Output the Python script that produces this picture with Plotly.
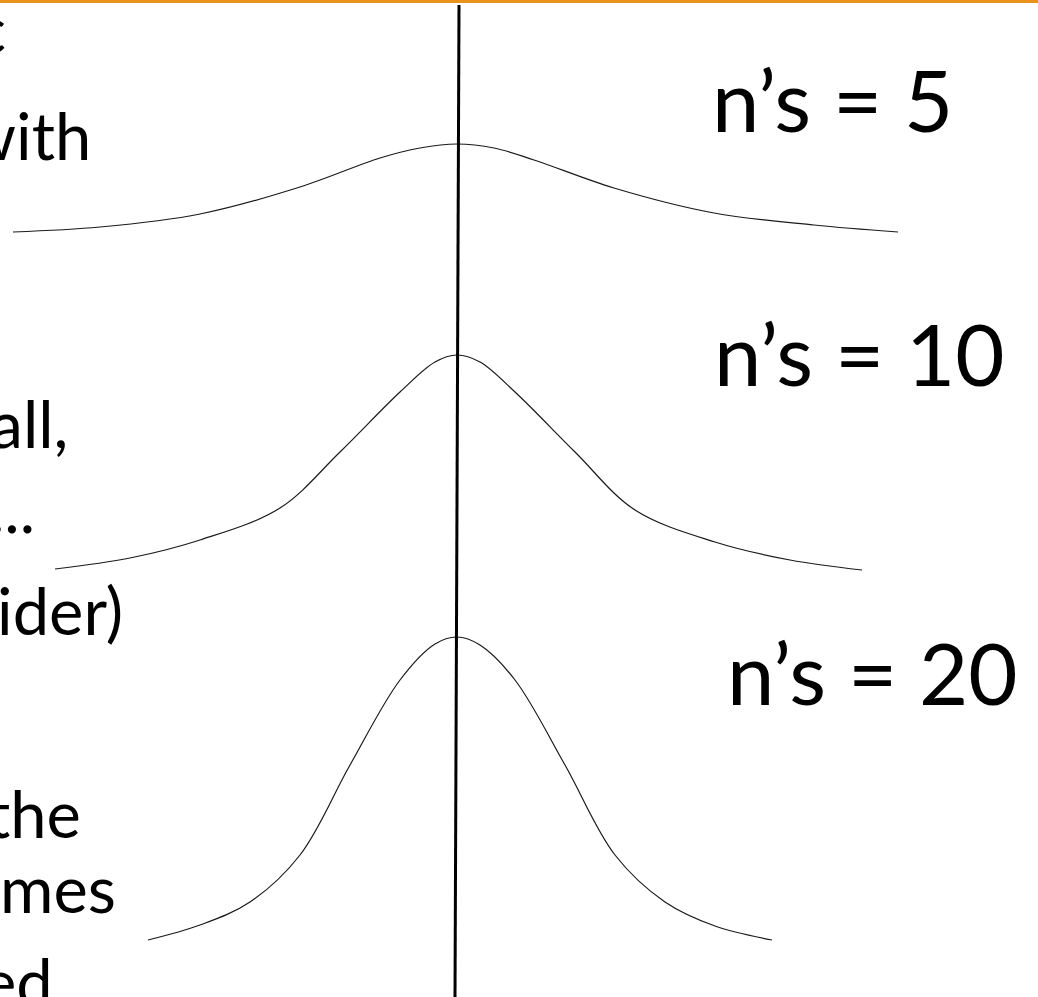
import plotly.graph_objects as go

# Pixel-space canvas (x: 0..1038, y: 0..997 top-down)
W, H = 1038, 997

# Bell curves
n5_x = [13, 100, 200, 300, 380, 420, 457, 494, 534, 614, 714, 814, 898]
n5_y = [232, 227, 214, 187, 158, 148, 144, 148, 160, 188, 213, 225, 232]

n10_x = [55, 130, 200, 280, 340, 400, 435, 457, 480, 515, 575, 635, 715, 790, 862]
n10_y = [569, 558, 540, 508, 452, 392, 362, 355, 362, 392, 452, 510, 542, 560, 570]

n20_x = [148, 200, 250, 300, 350, 400, 435, 457, 480, 515, 565, 615, 665, 715, 772]
n20_y = [940, 925, 902, 855, 765, 680, 644, 637, 645, 680, 765, 855, 902, 926, 940]

# Vertical reference (mean) line
mean_x = [459, 455]
mean_y = [5, 997]

# Orange title rule at the top
rule_x = [0, 1038]
rule_y = [1.5, 1.5]

labels = ["n’s = 5", "n’s = 10", "n’s = 20"]
label_x = [710, 712, 725]
label_y = [134, 388, 707]

# Left-hand body text (clipped by the page edge, as in the slide)
left_text = ["c", "with", "small,", "...", "wider)", "the", "becomes", "ed"]
left_right = [8, 93, 70, 37, 125, 83, 118, 55]
left_base = [55, 162, 450, 535, 637, 840, 915, 1008]

fig = go.Figure()
fig.add_trace(go.Scatter(x=rule_x, y=rule_y, mode="lines",
                         line=dict(color="#E8911C", width=3), hoverinfo="skip"))
for xs, ys in [(n5_x, n5_y), (n10_x, n10_y), (n20_x, n20_y)]:
    fig.add_trace(go.Scatter(x=xs, y=ys, mode="lines",
                             line=dict(color="#1a1a1a", width=1.2, shape="spline", smoothing=1.0),
                             hoverinfo="skip"))
fig.add_trace(go.Scatter(x=mean_x, y=mean_y, mode="lines",
                         line=dict(color="#000000", width=3), hoverinfo="skip"))

FONT = "Lato, 'Open Sans', sans-serif"
for t, x, y in zip(labels, label_x, label_y):
    fig.add_annotation(x=x, y=y, text=t, showarrow=False, xanchor="left", yanchor="bottom",
                       yshift=-18, font=dict(family=FONT, size=85, color="#000000"))
for t, x, y in zip(left_text, left_right, left_base):
    fig.add_annotation(x=x / W, y=1 - y / H, xref="paper", yref="paper", text=t,
                       showarrow=False, xanchor="right", yanchor="bottom",
                       yshift=-14, font=dict(family=FONT, size=65, color="#000000"))

fig.update_layout(
    width=W, height=H, margin=dict(l=0, r=0, t=0, b=0),
    paper_bgcolor="white", plot_bgcolor="white", showlegend=False,
    xaxis=dict(range=[0, W], visible=False, fixedrange=True),
    yaxis=dict(range=[H, 0], visible=False, fixedrange=True),
)
fig.write_html("out.html", config={"displayModeBar": False},
               post_script="document.body.style.margin='0';document.body.style.overflow='hidden';")
